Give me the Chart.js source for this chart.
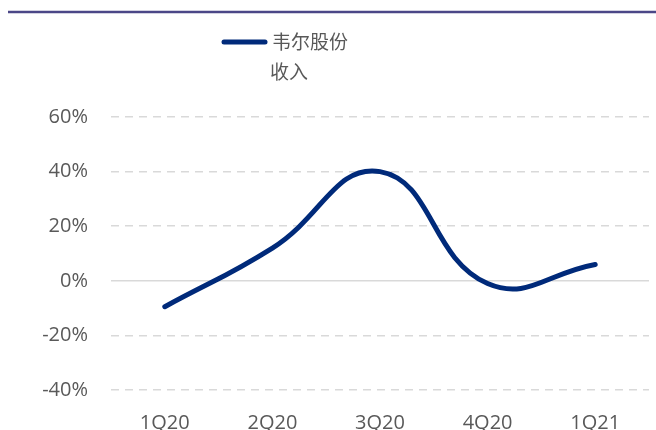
<!DOCTYPE html>
<html>
<head>
<meta charset="utf-8">
<script src="https://cdn.jsdelivr.net/npm/chart.js@4.4.1/dist/chart.umd.min.js"></script>
<style>
  html, body { margin: 0; padding: 0; background: #fff; }
  #wrap { width: 656px; height: 430px; position: relative; }
</style>
</head>
<body>
<div id="wrap"><canvas id="revenueChart"></canvas></div>
<script>
const quarters = ["1Q20", "2Q20", "3Q20", "4Q20", "1Q21"];
const revenueGrowth = [-9.5, 12, 40, -1, 6];
const seriesLabel = ["韦尔股份", "收入"];
const yMin = -40;
const yMax = 60;
const yStep = 20;

const lineColor = '#002a7a';
const textColor = '#595959';
const gridColor = '#d9d9d9';

const headerPlugin = {
    id: 'header',
    afterDraw(chart) {
        const ctx = chart.ctx;
        ctx.save();
        // top rule
        ctx.strokeStyle = '#4b4787';
        ctx.lineWidth = 2.5;
        ctx.beginPath();
        ctx.moveTo(8, 12);
        ctx.lineTo(656, 12);
        ctx.stroke();

        // legend: line sample + wrapped label
        ctx.strokeStyle = lineColor;
        ctx.lineWidth = 5;
        ctx.lineCap = 'round';
        ctx.beginPath();
        ctx.moveTo(224, 42);
        ctx.lineTo(265, 42);
        ctx.stroke();

        ctx.fillStyle = textColor;
        ctx.font = '19px "Noto Sans CJK SC"';
        ctx.textBaseline = 'middle';
        ctx.textAlign = 'left';
        ctx.fillText(seriesLabel[0], 272, 42);
        ctx.fillText(seriesLabel[1], 270, 72);
        ctx.restore();
    }
};

const ctx = document.getElementById('revenueChart').getContext('2d');
new Chart(ctx, {
    type: 'line',
    data: {
        labels: quarters,
        datasets: [{
            label: seriesLabel.join(''),
            data: revenueGrowth,
            borderColor: lineColor,
            borderWidth: 5,
            borderCapStyle: 'round',
            pointRadius: 0,
            tension: 0.45,
            fill: false
        }]
    },
    options: {
        responsive: true,
        maintainAspectRatio: false,
        animation: false,
        layout: { padding: { top: 117, right: 7, left: 0, bottom: 0 } },
        plugins: {
            legend: { display: false },
            tooltip: { enabled: false }
        },
        scales: {
            x: {
                offset: true,
                grid: { display: false },
                border: { display: false },
                ticks: {
                    color: textColor,
                    font: { family: '"Open Sans"', size: 20 },
                    padding: 13,
                    maxRotation: 0
                },
                afterFit(scale) { scale.height = 40; }
            },
            y: {
                min: yMin,
                max: yMax,
                grid: {
                    color: gridColor,
                    lineWidth: 1.5,
                    drawTicks: false
                },
                border: {
                    display: false,
                    dash: (c) => (c.tick && c.tick.value === 0 ? [] : [8, 6])
                },
                ticks: {
                    stepSize: yStep,
                    color: textColor,
                    font: { family: '"Open Sans"', size: 20 },
                    padding: 23,
                    callback: (v) => v + '%'
                },
                afterFit(scale) { scale.width = 111; }
            }
        }
    },
    plugins: [headerPlugin]
});
</script>
</body>
</html>
